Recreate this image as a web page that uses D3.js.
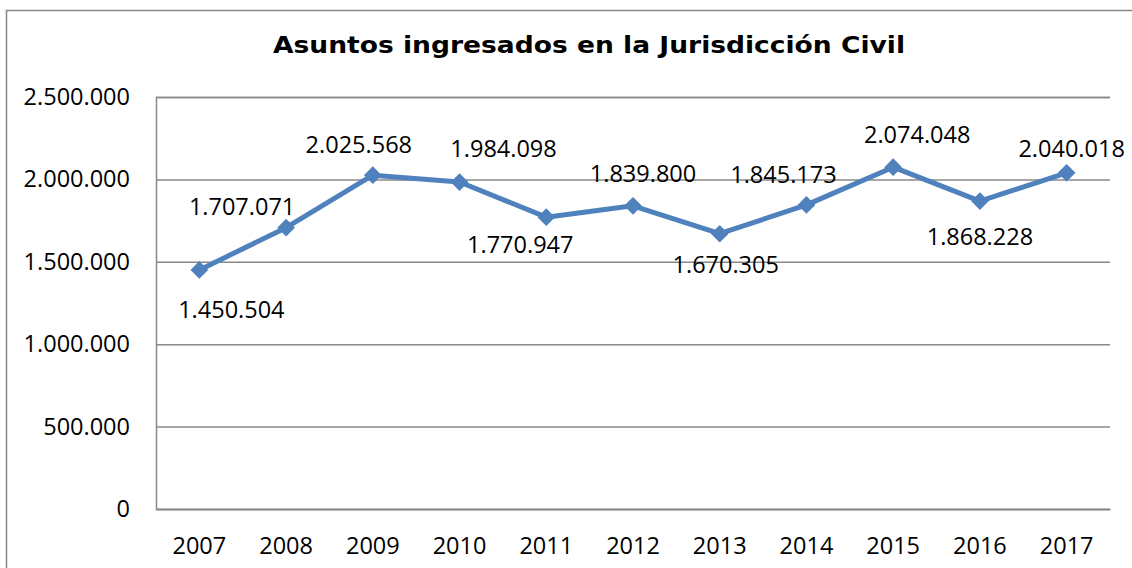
<!DOCTYPE html>
<html>
<head>
<meta charset="utf-8">
<script src="https://cdn.jsdelivr.net/npm/d3@7"></script>
<style>
  body { margin: 0; background: #fff; }
  svg { display: block; }
</style>
</head>
<body>
<div id="chart"></div>
<script>
const years = ['2007', '2008', '2009', '2010', '2011', '2012', '2013', '2014', '2015', '2016', '2017'];
const asuntos = [1450504, 1707071, 2025568, 1984098, 1770947, 1839800, 1670305, 1845173, 2074048, 1868228, 2040018];
const yTicks = [0, 500000, 1000000, 1500000, 2000000, 2500000];

// label offsets from each point (dx, dy to baseline), as placed in the original
const labelOffsets = [[32, 48], [-44, -13], [-14, -22], [44, -25], [-26, 36], [10, -24], [6, 39], [-23, -22], [24, -24], [0, 44], [5, -16]];

const width = 1132;
const height = 568;
const margin = { top: 97, right: 22, bottom: 59, left: 156 };
const LINE_COLOR = '#4F81BD';
const GRID_COLOR = '#888888';
const FONT = '"Open Sans", sans-serif';
const FONT_SIZE = '23.5px';

const fmt = (v) => d3.format(',')(v).replace(/,/g, '.');

const svg = d3
  .select('#chart')
  .append('svg')
  .attr('width', width)
  .attr('height', height);

// Chart frame
svg.append('rect')
  .attr('x', 6.5)
  .attr('y', 10.5)
  .attr('width', width + 20)
  .attr('height', height + 20)
  .attr('fill', 'none')
  .attr('stroke', GRID_COLOR)
  .attr('stroke-width', 1.5);

const x = d3
  .scaleBand()
  .domain(years)
  .range([margin.left, width - margin.right]);

const y = d3
  .scaleLinear()
  .domain([0, 2500000])
  .range([height - margin.bottom, margin.top]);

// Title
svg.append('text')
  .attr('x', 589)
  .attr('y', 53)
  .attr('text-anchor', 'middle')
  .attr('textLength', 632)
  .attr('lengthAdjust', 'spacingAndGlyphs')
  .style('font-family', '"DejaVu Sans", Verdana, sans-serif')
  .style('font-weight', 'bold')
  .style('font-size', '23px')
  .text('Asuntos ingresados en la Jurisdicción Civil');

// Gridlines + y labels
const yAxis = d3
  .axisLeft(y)
  .tickValues(yTicks)
  .tickSize(-(width - margin.left - margin.right))
  .tickPadding(26)
  .tickFormat(fmt);

const gy = svg.append('g')
  .attr('transform', `translate(${margin.left},0)`)
  .call(yAxis);

gy.select('.domain').attr('stroke', GRID_COLOR).attr('stroke-width', 1.5);
gy.selectAll('.tick line').attr('stroke', GRID_COLOR).attr('stroke-width', 1.5);
gy.selectAll('.tick text')
  .style('font-family', FONT)
  .style('font-size', FONT_SIZE)
  .attr('fill', '#000');

// x axis
const xAxis = d3.axisBottom(x).tickSize(0).tickPadding(28);

const gx = svg.append('g')
  .attr('transform', `translate(0,${height - margin.bottom})`)
  .call(xAxis);

gx.select('.domain').attr('stroke', GRID_COLOR).attr('stroke-width', 1.5);
gx.selectAll('.tick text')
  .style('font-family', FONT)
  .style('font-size', FONT_SIZE)
  .attr('fill', '#000');

// Line
const cx = (d, i) => x(years[i]) + x.bandwidth() / 2;

const line = d3
  .line()
  .x(cx)
  .y((d) => y(d));

svg.append('path')
  .datum(asuntos)
  .attr('d', line)
  .attr('fill', 'none')
  .attr('stroke', LINE_COLOR)
  .attr('stroke-width', 5)
  .attr('stroke-linejoin', 'round');

// Diamond markers
const diamond = d3.symbol().type(d3.symbolDiamond2).size(200);

svg.selectAll('.marker')
  .data(asuntos)
  .enter()
  .append('path')
  .attr('class', 'marker')
  .attr('d', diamond)
  .attr('transform', (d, i) => `translate(${cx(d, i)},${y(d)})`)
  .attr('fill', LINE_COLOR);

// Data labels
svg.selectAll('.data-label')
  .data(asuntos)
  .enter()
  .append('text')
  .attr('class', 'data-label')
  .attr('x', (d, i) => cx(d, i) + labelOffsets[i][0])
  .attr('y', (d, i) => y(d) + labelOffsets[i][1])
  .attr('text-anchor', 'middle')
  .style('font-family', FONT)
  .style('font-size', FONT_SIZE)
  .attr('fill', '#000')
  .text(fmt);
</script>
</body>
</html>
